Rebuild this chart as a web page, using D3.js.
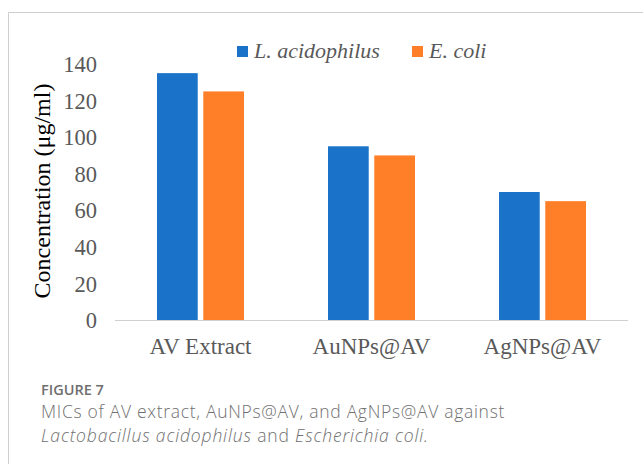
<!DOCTYPE html>
<html>
<head>
<meta charset="utf-8">
<script src="https://cdn.jsdelivr.net/npm/d3@7"></script>
<style>
  html, body { margin: 0; padding: 0; background: #fff; }
  svg { display: block; }
</style>
</head>
<body>
<svg id="chart" width="643" height="464"></svg>
<script>
// MIC values (µg/ml) per sample and bacterial strain
const categories = ["AV Extract", "AuNPs@AV", "AgNPs@AV"];
const seriesNames = ["L. acidophilus", "E. coli"];
const lAcidophilus = [135, 95, 70];
const eColi = [125, 90, 65];
const yTicks = [0, 20, 40, 60, 80, 100, 120, 140];
const colors = ["#1a73c9", "#fe7f27"];

const rows = categories.map((c, i) => ({ cat: c, values: [lAcidophilus[i], eColi[i]] }));

const svg = d3.select("#chart");
const serif = "'Liberation Serif', 'Times New Roman', serif";

// panel frame
svg.append("path")
  .attr("d", "M8.5,464 V12.5 H643")
  .attr("fill", "none")
  .attr("stroke", "#cfcfcf")
  .attr("stroke-width", 1);

const x0 = d3.scaleBand().domain(categories).range([115, 628]);
const x1 = d3.scaleBand().domain([0, 1]).range([0, 87]).paddingInner(0.12);
const y = d3.scaleLinear().domain([0, 140]).range([320, 64]);

// category groups
const g = svg.append("g");
const groups = g.selectAll("g.cat").data(rows).join("g")
  .attr("class", "cat")
  .attr("transform", d => `translate(${x0(d.cat) + (x0.bandwidth() - 87) / 2},0)`);

groups.selectAll("rect").data(d => d.values).join("rect")
  .attr("x", (d, i) => x1(i))
  .attr("width", x1.bandwidth())
  .attr("y", d => y(d))
  .attr("height", d => y(0) - y(d))
  .attr("fill", (d, i) => colors[i]);

// baseline
svg.append("line")
  .attr("x1", 115).attr("x2", 628)
  .attr("y1", y(0) + 0.5).attr("y2", y(0) + 0.5)
  .attr("stroke", "#d0d0d0").attr("stroke-width", 1);

// y axis labels
const yAxis = d3.axisLeft(y).tickValues(yTicks).tickSize(0).tickPadding(0);
const ya = svg.append("g").attr("transform", "translate(97,0)").call(yAxis);
ya.select(".domain").remove();
ya.selectAll("text")
  .attr("font-family", serif).attr("font-size", 22.5).attr("fill", "#595959")
  .attr("dy", "0.34em");

// x axis labels
const xAxis = d3.axisBottom(x0).tickSize(0).tickPadding(0);
const xa = svg.append("g").attr("transform", `translate(0,${y(0)})`).call(xAxis);
xa.select(".domain").remove();
xa.selectAll("text")
  .attr("font-family", serif).attr("font-size", 23).attr("fill", "#595959")
  .attr("y", 34).attr("dy", 0);

// y axis title
svg.append("text")
  .attr("transform", "translate(50,191) rotate(-90)")
  .attr("text-anchor", "middle")
  .attr("font-family", serif).attr("font-size", 24).attr("fill", "#000")
  .text("Concentration (μg/ml)");

// legend
const legendX = [237, 412];
const lg = svg.append("g").selectAll("g").data(seriesNames).join("g")
  .attr("transform", (d, i) => `translate(${legendX[i]},46)`);
lg.append("rect").attr("width", 11).attr("height", 11).attr("fill", (d, i) => colors[i]);
lg.append("text")
  .attr("x", 17).attr("y", 12)
  .attr("font-family", serif).attr("font-style", "italic").attr("font-size", 22)
  .attr("fill", "#595959")
  .text(d => d);

// caption
const sans = "'Open Sans', 'Noto Sans', sans-serif";
svg.append("text")
  .attr("x", 41).attr("y", 395)
  .attr("font-family", sans).attr("font-size", 14.5).attr("font-weight", 600)
  .attr("fill", "#6f6f6f")
  .text("FIGURE 7");
svg.append("text")
  .attr("x", 41).attr("y", 418)
  .attr("font-family", sans).attr("font-size", 17.5).attr("font-weight", 300)
  .attr("letter-spacing", 0.7).attr("fill", "#707070")
  .text("MICs of AV extract, AuNPs@AV, and AgNPs@AV against");
const cap2 = svg.append("text")
  .attr("x", 41).attr("y", 442)
  .attr("font-family", sans).attr("font-size", 17.5).attr("font-weight", 300)
  .attr("letter-spacing", 0.85).attr("fill", "#707070");
cap2.append("tspan").attr("font-style", "italic").text("Lactobacillus acidophilus");
cap2.append("tspan").text(" and ");
cap2.append("tspan").attr("font-style", "italic").text("Escherichia coli.");
</script>
</body>
</html>
